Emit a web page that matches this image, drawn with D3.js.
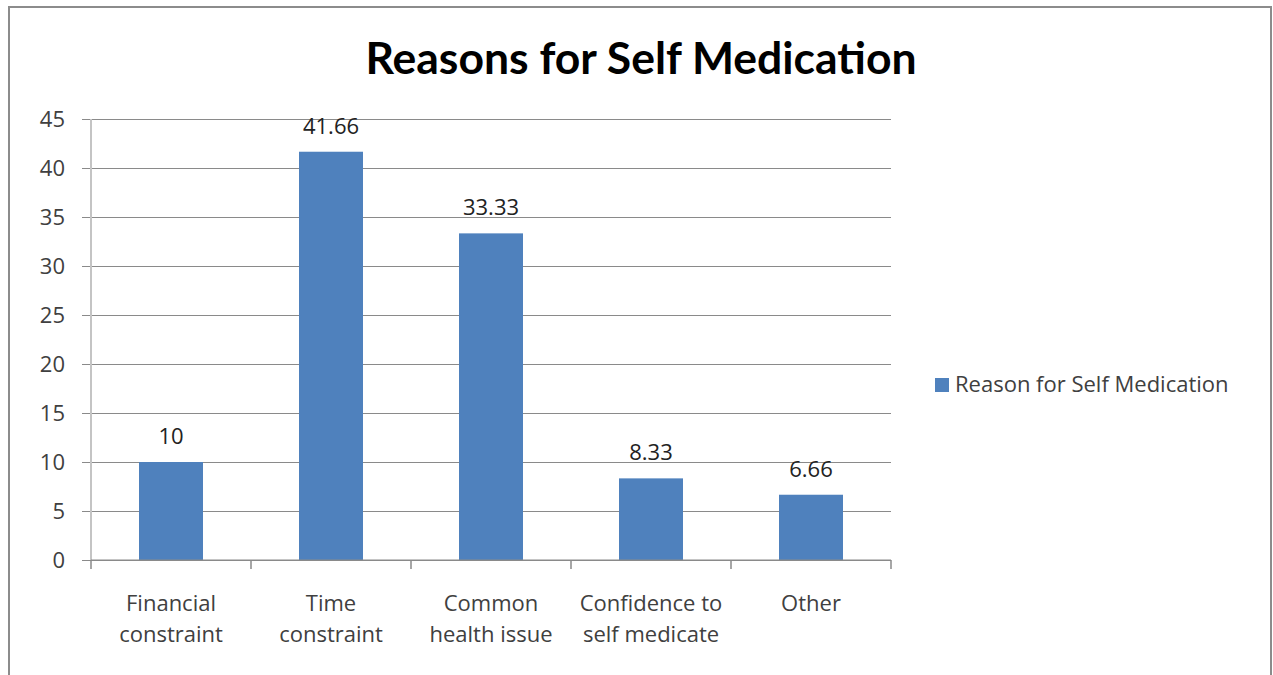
<!DOCTYPE html>
<html>
<head>
<meta charset="utf-8">
<script src="https://cdn.jsdelivr.net/npm/d3@7"></script>
<style>
  body { margin: 0; background: #fff; }
  svg text { font-family: "Open Sans", sans-serif; }
  svg text.title { font-family: Lato, sans-serif; }
</style>
</head>
<body>
<div id="chart"></div>
<script>
// data
let categories = [["Financial", "constraint"], ["Time", "constraint"], ["Common", "health issue"], ["Confidence to", "self medicate"], ["Other"]];
let values = [10, 41.66, 33.33, 8.33, 6.66];
let labels = ["10", "41.66", "33.33", "8.33", "6.66"];
let yTicks = [0, 5, 10, 15, 20, 25, 30, 35, 40, 45];
let seriesName = "Reason for Self Medication";
let title = "Reasons for Self Medication";

let width = 1273, height = 675;
let margin = ({top: 119, right: 382, bottom: 115, left: 91});
let fs = 22;

let svg = d3.select("#chart").append("svg")
    .attr("width", width)
    .attr("height", height);

// outer frame
svg.append("rect")
    .attr("x", 9).attr("y", 7)
    .attr("width", 1262).attr("height", 680)
    .attr("fill", "none")
    .attr("stroke", "#8c8c8c")
    .attr("stroke-width", 2);

let keys = categories.map((d, i) => i);

let x = d3.scaleBand()
    .domain(keys)
    .range([margin.left, width - margin.right])
    .paddingInner(0.6)
    .paddingOuter(0.3);

let xOuter = d3.scaleBand()
    .domain(keys)
    .range([margin.left, width - margin.right]);

let y = d3.scaleLinear()
    .domain([0, 45])
    .range([height - margin.bottom, margin.top]);

// gridlines + y axis
svg.append("g")
    .attr("transform", `translate(${margin.left},0)`)
    .call(d3.axisLeft(y).tickValues(yTicks).tickSize(9).tickPadding(17))
    .call(g => g.select(".domain").remove())
    .call(g => g.selectAll(".tick line").clone()
        .attr("x2", width - margin.right - margin.left)
        .attr("stroke", "#8a8a8a"))
    .call(g => g.selectAll(".tick line").attr("stroke", "#8a8a8a"))
    .call(g => g.selectAll(".tick text")
        .attr("font-size", fs)
        .attr("fill", "#404040"));

svg.append("line")
    .attr("x1", margin.left).attr("x2", margin.left)
    .attr("y1", margin.top).attr("y2", height - margin.bottom)
    .attr("stroke", "#c4c4c4")
    .attr("stroke-width", 2);

// bars
svg.append("g")
    .selectAll("rect")
    .data(values)
    .join("rect")
    .attr("x", (d, i) => x(i))
    .attr("y", d => y(d))
    .attr("width", x.bandwidth())
    .attr("height", d => y(0) - y(d))
    .attr("fill", "#4f81bd");

// x axis line + category ticks
svg.append("line")
    .attr("x1", margin.left).attr("x2", width - margin.right)
    .attr("y1", y(0)).attr("y2", y(0))
    .attr("stroke", "#8a8a8a");

svg.append("g")
    .selectAll("line")
    .data(keys.concat([keys.length]))
    .join("line")
    .attr("x1", i => margin.left + i * xOuter.step())
    .attr("x2", i => margin.left + i * xOuter.step())
    .attr("y1", y(0))
    .attr("y2", y(0) + 9)
    .attr("stroke", "#8a8a8a")
    .attr("stroke-width", 1.5);

// category labels
svg.append("g")
    .selectAll("text")
    .data(categories)
    .join("text")
    .attr("text-anchor", "middle")
    .attr("font-size", fs)
    .attr("fill", "#404040")
    .attr("transform", (d, i) => `translate(${xOuter(i) + xOuter.bandwidth() / 2},${y(0) + 51})`)
    .selectAll("tspan")
    .data(d => d)
    .join("tspan")
    .attr("x", 0)
    .attr("dy", (d, j) => j === 0 ? 0 : 31)
    .text(d => d);

// value labels
svg.append("g")
    .selectAll("text")
    .data(values)
    .join("text")
    .attr("text-anchor", "middle")
    .attr("font-size", fs)
    .attr("fill", "#222")
    .attr("x", (d, i) => x(i) + x.bandwidth() / 2)
    .attr("y", d => y(d) - 18)
    .text((d, i) => labels[i]);

// title
svg.append("text")
    .attr("class", "title")
    .attr("x", 641)
    .attr("y", 74)
    .attr("text-anchor", "middle")
    .attr("font-size", 44.5)
    .attr("font-weight", "bold")
    .attr("fill", "#000")
    .text(title);

// legend
let legend = svg.append("g").attr("transform", "translate(935,378)");
legend.append("rect")
    .attr("width", 14).attr("height", 14)
    .attr("fill", "#4f81bd");
legend.append("text")
    .attr("x", 20)
    .attr("y", 14)
    .attr("font-size", fs)
    .attr("fill", "#404040")
    .text(seriesName);
</script>
</body>
</html>
